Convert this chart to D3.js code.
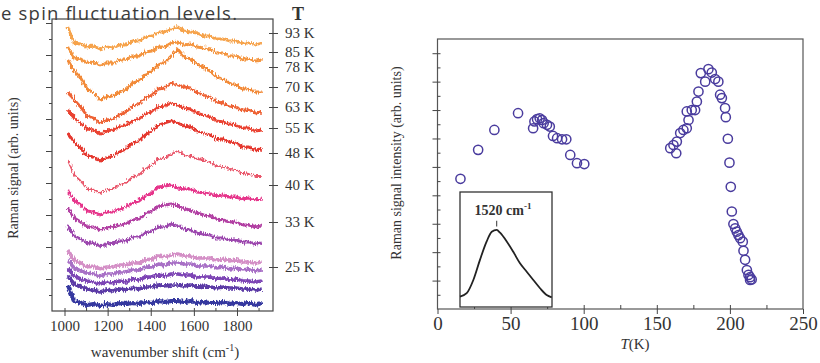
<!DOCTYPE html>
<html>
<head>
<meta charset="utf-8">
<script src="https://cdn.jsdelivr.net/npm/d3@7"></script>
<style>
  body { margin: 0; background: #fff; }
  svg text { font-family: "Liberation Serif", "Times New Roman", serif; fill: #333; }
  .caption { font-family: "Open Sans", sans-serif; font-size: 18.5px; fill: #3a3a3a; }
  .axis path { display: none; }
  .axis line { stroke: #444; }
</style>
</head>
<body>
<div id="chart"></div>
<script>
// ---- left panel: Raman spectra, offset per temperature ----
const wavenumbers = [1015,1045,1075,1105,1135,1165,1195,1225,1255,1285,1315,1345,1375,1405,1435,1465,1495,1525,1555,1585,1615,1645,1675,1705,1735,1765,1795,1825,1855,1885,1915];

const sig93 = [284,268,267,264,265,262,264,263,266,266,270,270,274,275,279,279,282,284,280,279,278,275,275,272,272,270,270,268,268,266,268];
const sig85 = [264,253,252,248,249,246,248,248,251,251,255,255,259,260,264,264,268,269,266,267,264,263,262,258,258,255,255,252,252,250,251];
const sig78 = [251,240,233,222,218,211,214,215,219,221,228,230,236,240,246,249,255,262,254,252,247,244,240,234,232,228,226,222,222,219,219];
const sig70 = [219,211,204,195,193,188,191,192,196,199,205,207,213,216,222,223,228,226,224,223,218,216,214,209,208,205,204,201,201,198,199];
const sig63 = [201,193,188,182,181,177,180,181,184,186,190,192,197,199,204,205,208,206,203,202,198,196,194,190,189,187,186,183,183,180,181];
const sig55 = [178,169,163,155,154,150,153,155,159,162,168,170,176,180,186,188,190,188,185,184,180,178,176,172,172,169,168,164,164,161,162];
const sig48 = [151,136,130,122,121,118,121,122,126,128,134,136,142,146,152,153,157,160,156,155,152,151,149,145,144,142,141,138,137,135,135];
const sig40 = [121,111,106,100,99,96,99,99,102,104,108,110,115,118,124,125,126,123,122,122,119,118,117,115,116,114,114,112,113,111,112];
const sig33 = [103,93,89,84,84,81,83,84,86,87,91,92,97,100,105,106,107,105,102,101,98,96,95,92,91,89,89,86,86,84,85];
const sig29 = [85,75,72,68,68,65,67,68,70,70,74,74,78,80,84,84,87,85,82,81,78,77,76,73,73,71,71,69,69,67,68];
const sig25 = [61,51,48,44,45,42,44,44,46,46,48,48,51,52,55,54,56,57,55,55,53,53,53,51,52,50,51,49,49,48,49];
const sig21 = [51,43,40,38,37,35,37,37,39,39,41,41,44,44,47,46,48,48,47,47,45,45,45,43,44,42,43,41,42,40,41];
const sig17 = [43,35,32,30,29,27,29,28,30,29,32,31,34,34,36,35,37,37,36,36,34,34,34,32,33,31,32,30,30,29,30];
const sig13 = [35,27,24,22,21,19,21,20,22,21,23,22,24,24,26,25,26,26,25,26,24,25,24,23,24,23,23,22,22,21,22];
const sig10 = [26,10,8,6,7,5,7,6,8,7,8,7,9,8,10,9,10,10,9,10,8,9,8,8,9,7,8,7,8,6,8];

const spectra = [sig93, sig85, sig78, sig70, sig63, sig55, sig48, sig40, sig33, sig29, sig25, sig21, sig17, sig13, sig10];
const spectraColors = ["#f6a34c","#f4953f","#f28a38","#ee6436","#ea4331","#e5372f","#e9566a","#e6368b","#b23fa3","#9c47ae","#d48fc6","#a870c6","#7d45b5","#5b3aa6","#34379f"];
const spectraWidths = [2.8,2.8,2.8,2.8,2.8,2.8,1.8,3,3,3,3.6,3.6,3.6,3.6,4];

const tempLabels = ["93 K","85 K","78 K","70 K","63 K","55 K","48 K","40 K","33 K","25 K"];
const tempLabelPos = [278,259,244,224,204,183,158,126,89,44];
const wnTicks = [1000,1200,1400,1600,1800];

// ---- right panel: integrated intensity vs temperature ----
const tempK = [15.7,27.8,38.9,55.1,65.4,66.3,68.1,69.9,71.5,72.6,74.9,76.8,79.0,81.8,85.2,88.1,90.8,95.4,100.4,
  159.2,161.4,163.3,163.7,166.0,168.2,170.5,171.7,170.5,173.9,176.2,177.4,178.5,180.1,183.1,185.3,187.6,189.9,192.1,193.3,194.5,
  196.7,197.2,198.6,199.7,200.6,201.3,202.4,203.6,204.7,205.8,207.0,208.8,209.3,210.4,211.6,212.7,213.8,214.9,213.8];
const intensity = [4.58,5.60,6.30,6.89,6.36,6.60,6.68,6.71,6.65,6.54,6.48,6.42,6.09,6.01,5.97,5.97,5.42,5.13,5.10,
  5.66,5.77,5.48,5.89,6.19,6.30,6.36,6.65,6.95,7.00,7.00,7.30,7.65,8.30,8.00,8.44,8.32,8.09,8.00,7.54,7.42,
  7.07,6.75,5.99,5.15,4.30,3.43,2.99,2.84,2.72,2.60,2.49,2.37,2.05,1.73,1.37,1.20,1.12,1.04,1.02];
const tTicks = [0,50,100,150,200,250];

// inset: 1520 cm-1 peak profile
const insetX = [0,7.3,14.5,21.7,29,34.5,39.9,43.5,50.8,57.9,65.2,72.5,79.7,87,94.2,99.7];
const insetY = [0.09,0.12,0.235,0.41,0.57,0.655,0.67,0.646,0.57,0.48,0.38,0.307,0.235,0.163,0.104,0.084];

const svg = d3.select("#chart").append("svg").attr("width", 820).attr("height", 363);

// rough texture for the noisy spectra
const defs = svg.append("defs");
const f = defs.append("filter").attr("id", "noisy").attr("x", "-5%").attr("y", "-20%").attr("width", "110%").attr("height", "140%");
f.append("feTurbulence").attr("type", "fractalNoise").attr("baseFrequency", "0.9 0.3").attr("numOctaves", 1).attr("seed", 3).attr("result", "t");
f.append("feDisplacementMap").attr("in", "SourceGraphic").attr("in2", "t").attr("scale", 6).attr("xChannelSelector", "R").attr("yChannelSelector", "G");

svg.append("text").attr("class", "caption").attr("x", 1).attr("y", 20)
  .attr("textLength", 236).attr("lengthAdjust", "spacing").text("e spin fluctuation levels.");

// left panel
const L = { left: 52, right: 273, top: 19, bottom: 311 };
const xL = d3.scaleLinear().domain([942, 1967]).range([L.left, L.right]);
const yL = d3.scaleLinear().domain([0, 292]).range([L.bottom, L.top]);

const line = d3.line().x((d, i) => xL(wavenumbers[i])).y(d => yL(d));
svg.append("g").attr("filter", "url(#noisy)")
  .selectAll(".spec")
  .data(spectra)
  .enter().append("path")
  .attr("class", "spec")
  .attr("fill", "none")
  .attr("stroke", (d, i) => spectraColors[i])
  .attr("stroke-width", (d, i) => spectraWidths[i])
  .attr("stroke-linejoin", "round")
  .attr("d", d => line(d));

svg.append("rect").attr("x", L.left).attr("y", L.top)
  .attr("width", L.right - L.left).attr("height", L.bottom - L.top)
  .attr("fill", "none").attr("stroke", "#444").attr("stroke-width", 1.2);

// left y ticks (no labels)
svg.append("g").attr("class", "axis").attr("transform", `translate(${L.left},0)`)
  .call(d3.axisLeft(yL).tickValues([32, 64, 96, 128, 160, 192, 224, 256, 288]).tickSize(6).tickFormat(""));
svg.append("g").attr("class", "axis").attr("transform", `translate(${L.left},0)`)
  .call(d3.axisLeft(yL).tickValues([16, 48, 80, 112, 144, 176, 208, 240, 272]).tickSize(3).tickFormat(""));

// temperature labels on the right
const tAxis = svg.append("g").attr("class", "axis").attr("transform", `translate(${L.right},0)`)
  .call(d3.axisRight(yL).tickValues(tempLabelPos).tickSize(5).tickPadding(7).tickFormat((d, i) => tempLabels[i]));
tAxis.selectAll("text").style("font-size", "15px").attr("fill", "#333");
svg.append("g").attr("class", "axis").attr("transform", `translate(${L.right},0)`)
  .call(d3.axisLeft(yL).tickValues(tempLabelPos).tickSize(4).tickFormat(""));
svg.append("text").attr("x", 298).attr("y", 20).attr("text-anchor", "middle")
  .style("font-size", "18px").style("font-weight", "bold").attr("fill", "#3a3a44").text("T");

// wavenumber axis
const xa = svg.append("g").attr("class", "axis").attr("transform", `translate(0,${L.bottom})`)
  .call(d3.axisBottom(xL).tickValues(wnTicks).tickSize(5).tickPadding(4).tickFormat(d3.format("d")));
xa.selectAll("text").style("font-size", "15px").attr("fill", "#333");
svg.append("g").attr("class", "axis").attr("transform", `translate(0,${L.bottom})`)
  .call(d3.axisTop(xL).tickValues([1000, 1100, 1200, 1300, 1400, 1500, 1600, 1700, 1800, 1900]).tickSize(3).tickFormat(""));

const xt = svg.append("text").attr("x", 165).attr("y", 357).attr("text-anchor", "middle").style("font-size", "15px");
xt.append("tspan").text("wavenumber shift (cm");
xt.append("tspan").attr("dy", -6).style("font-size", "10px").text("-1");
xt.append("tspan").attr("dy", 6).text(")");

svg.append("text").attr("transform", "translate(18,168) rotate(-90)").attr("text-anchor", "middle")
  .style("font-size", "14px").text("Raman signal (arb. units)");

// right panel
const R = { left: 437.5, right: 803, top: 39, bottom: 309 };
const xR = d3.scaleLinear().domain([0, 250]).range([R.left, R.right]);
const yR = d3.scaleLinear().domain([0, 9.5]).range([R.bottom, R.top]);

svg.append("rect").attr("x", R.left).attr("y", R.top)
  .attr("width", R.right - R.left).attr("height", R.bottom - R.top)
  .attr("fill", "none").attr("stroke", "#555").attr("stroke-width", 1.2);

svg.append("g").attr("class", "axis").attr("transform", `translate(${R.left},0)`)
  .call(d3.axisLeft(yR).tickValues([1, 2, 3, 4, 5, 6, 7, 8, 9]).tickSize(5).tickFormat(""));
svg.append("g").attr("class", "axis").attr("transform", `translate(${R.left},0)`)
  .call(d3.axisRight(yR).tickValues([0.5, 1, 1.5, 2, 2.5, 3, 3.5, 4, 4.5, 5, 5.5, 6, 6.5, 7, 7.5, 8, 8.5, 9]).tickSize(3).tickFormat(""));

const xb = svg.append("g").attr("class", "axis").attr("transform", `translate(0,${R.bottom})`)
  .call(d3.axisBottom(xR).tickValues(tTicks).tickSize(5).tickPadding(3));
xb.selectAll("text").style("font-size", "19px").attr("fill", "#333");
svg.append("g").attr("class", "axis").attr("transform", `translate(0,${R.bottom})`)
  .call(d3.axisTop(xR).tickValues([25, 50, 75, 100, 125, 150, 175, 200, 225]).tickSize(4).tickFormat(""));

const tl = svg.append("text").attr("x", 635).attr("y", 349).attr("text-anchor", "middle").style("font-size", "15px");
tl.append("tspan").style("font-style", "italic").text("T");
tl.append("tspan").text("(K)");

svg.append("text").attr("transform", "translate(401,163) rotate(-90)").attr("text-anchor", "middle")
  .style("font-size", "14px").text("Raman signal intensity (arb. units)");

svg.append("g").selectAll(".dot")
  .data(tempK)
  .enter().append("circle")
  .attr("class", "dot")
  .attr("r", 4.6)
  .attr("cx", d => xR(d))
  .attr("cy", (d, i) => yR(intensity[i]))
  .attr("fill", "none")
  .attr("stroke", "#4a3c9e")
  .attr("stroke-width", 1.5);

// inset
const I = { left: 460, right: 552, top: 192, bottom: 307 };
const xI = d3.scaleLinear().domain([0, 100]).range([I.left, I.right]);
const yI = d3.scaleLinear().domain([0, 1]).range([I.bottom, I.top]);
svg.append("rect").attr("x", I.left).attr("y", I.top)
  .attr("width", I.right - I.left).attr("height", I.bottom - I.top)
  .attr("fill", "#fff").attr("stroke", "#333").attr("stroke-width", 1.3);
svg.append("path")
  .attr("d", d3.line().x((d, i) => xI(insetX[i])).y(d => yI(d)).curve(d3.curveMonotoneX)(insetY))
  .attr("fill", "none").attr("stroke", "#222").attr("stroke-width", 1.8);
svg.append("line").attr("x1", xI(39.9)).attr("x2", xI(39.9)).attr("y1", yI(0.75)).attr("y2", yI(0.7))
  .attr("stroke", "#333").attr("stroke-width", 1);
const il = svg.append("text").attr("x", 503).attr("y", 215).attr("text-anchor", "middle")
  .style("font-size", "14px").style("font-weight", "bold").attr("fill", "#3a3a3a");
il.append("tspan").text("1520 cm");
il.append("tspan").attr("dy", -6).style("font-size", "9px").text("-1");
</script>
</body>
</html>
